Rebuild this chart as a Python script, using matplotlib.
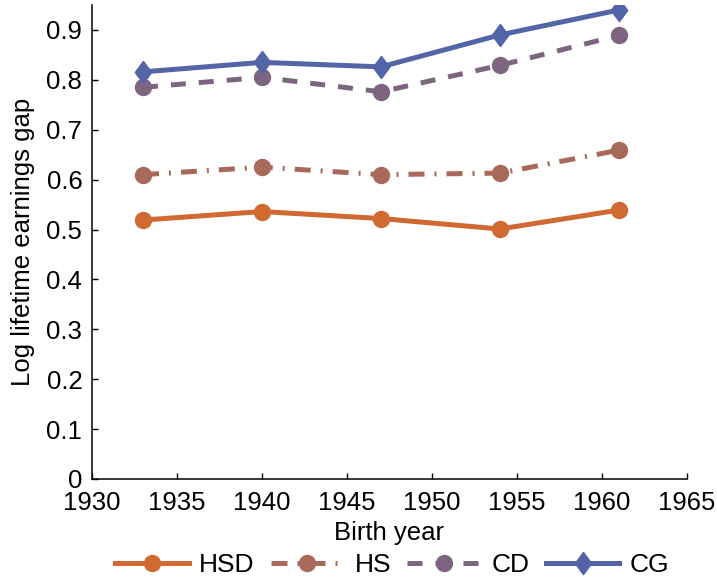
import matplotlib
matplotlib.use("Agg")
import matplotlib.pyplot as plt

plt.rcParams['font.family'] = ['Liberation Sans', 'DejaVu Sans']

birth_years = [1933, 1940, 1947, 1954, 1961]
hsd = [0.519, 0.536, 0.522, 0.501, 0.539]
hs = [0.610, 0.625, 0.610, 0.613, 0.659]
cd = [0.785, 0.805, 0.776, 0.829, 0.889]
cg = [0.816, 0.835, 0.826, 0.890, 0.940]
labels = ["HSD", "HS", "CD", "CG"]

colors = ["#D06A32", "#A8685A", "#7D6580", "#5365A7"]

fig = plt.figure(figsize=(7.17, 5.81), dpi=100)
ax = fig.add_axes([0.1283, 0.1756, 0.958 - 0.1283, 0.9914 - 0.1756])

diamond = [(0, 1), (0.74, 0), (0, -1), (-0.74, 0), (0, 1)]

lw = 3.6
ax.plot(birth_years, hsd, color=colors[0], lw=lw, linestyle='-',
        marker='o', markersize=11.5, label=labels[0])
ax.plot(birth_years, hs, color=colors[1], lw=lw, linestyle=(0, (3.2, 2.0, 0.4, 2.0)),
        marker='o', markersize=11.5, label=labels[1])
ax.plot(birth_years, cd, color=colors[2], lw=lw, linestyle=(0, (3.0, 2.6)),
        marker='o', markersize=11.5, label=labels[2])
ax.plot(birth_years, cg, color=colors[3], lw=lw, linestyle='-',
        marker=diamond, markersize=16, label=labels[3])

ax.set_xlim(1930, 1965)
ax.set_ylim(0, 0.95)
ax.set_xticks(range(1930, 1966, 5))
ax.set_yticks([0, 0.1, 0.2, 0.3, 0.4, 0.5, 0.6, 0.7, 0.8, 0.9])
ax.set_yticklabels(["0", "0.1", "0.2", "0.3", "0.4", "0.5", "0.6", "0.7", "0.8", "0.9"])

for s in ['top', 'right']:
    ax.spines[s].set_visible(False)
for s in ['left', 'bottom']:
    ax.spines[s].set_linewidth(1.1)

ax.tick_params(direction='in', length=4.5, width=1.0, labelsize=18.5)
ax.tick_params(axis='y', pad=7)
ax.tick_params(axis='x', pad=9)

ax.set_xlabel("Birth year", fontsize=18.5, labelpad=4)
ax.set_ylabel("Log lifetime earnings gap", fontsize=18.5, labelpad=8)

fig.legend(loc='center', bbox_to_anchor=(0.547, 0.027), ncol=4, frameon=False,
           fontsize=19, handlelength=2.8, handletextpad=0.4, columnspacing=0.6)

fig.savefig("out.png", dpi=100)
